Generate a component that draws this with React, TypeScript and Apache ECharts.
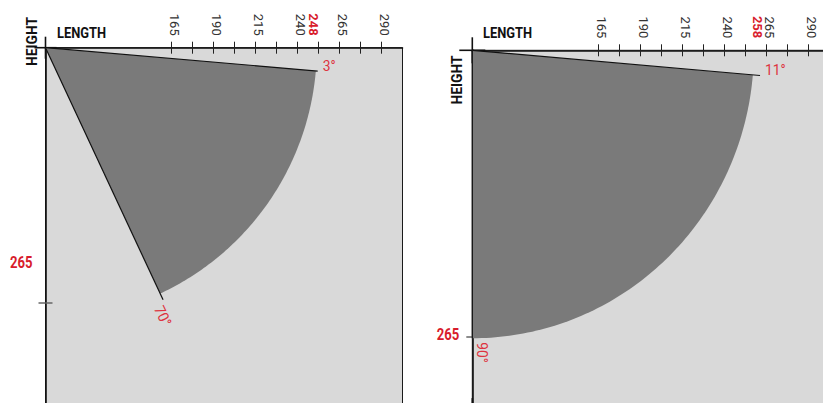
import React, { useEffect, useRef } from 'react';
import * as echarts from 'echarts';

// ---------- data ----------
const LENGTH_MIN = 90;
const LENGTH_MAX = 302.5;
const HEIGHT_MIN = 0;
const heightMax = [240, 210];

const lengthTicks = [165, 177.5, 190, 202.5, 215, 227.5, 240, 252.5, 265, 277.5, 290];
const lengthLabels = [165, 190, 215, 240, 265, 290];

const lengthMarks = [248, 258];        // red length values on the top axis
const heightMarks = [265, 265];        // red height values
const heightMarkLevels = [128, 165.7]; // where the red height value sits on the height axis
const heightTicks = [152, 167];        // tick on the height axis
const upperAngleLabels = [3, 11];
const lowerAngleLabels = [70, 90];
const sweepFrom = [4.9, 4.9];          // drawn upper arm direction (deg below horizontal)
const sweepTo = [65, 90];              // drawn lower arm direction
const fillReach = [161.5, 167.6];      // radius of the shaded sector
const upperArmReach = [162.6, 171.9];  // length of the upper arm line
const lowerArmReach = [165.6, 167.6];  // length of the lower arm line

// ---------- styles ----------
const FONT = "Roboto, 'Liberation Sans', sans-serif";
const RED = '#d81c2c';
const RED_LIGHT = '#de3340';
const FILL = '#7a7a7a';
const BG = '#d9d9d9';
const INK = '#111';
const RAD = Math.PI / 180;
const NARROW = 0.86;

const gridBox = [
  { left: 45.5, top: 47.7, width: 357, height: 403.2 },
  { left: 472.3, top: 50.3, width: 357, height: 360.8 },
];
const extSize = [22, 26];

function makeRenderItem(i: number) {
  return (params: any, api: any) => {
    const at = (r: number, deg: number) =>
      api.coord([LENGTH_MIN + r * Math.cos(deg * RAD), HEIGHT_MIN + r * Math.sin(deg * RAD)]);
    const pivot = api.coord([LENGTH_MIN, HEIGHT_MIN]);
    const pts: number[][] = [pivot];
    const steps = 90;
    for (let k = 0; k <= steps; k++) {
      const a = sweepFrom[i] + ((sweepTo[i] - sweepFrom[i]) * k) / steps;
      pts.push(at(fillReach[i], a));
    }
    const up = at(upperArmReach[i], sweepFrom[i]);
    const lo = at(lowerArmReach[i], sweepTo[i]);
    const loAng = Math.atan2(lo[1] - pivot[1], lo[0] - pivot[0]);
    const along = 4;
    const lp = [lo[0] + along * Math.cos(loAng), lo[1] + along * Math.sin(loAng)];
    const inside = sweepTo[i] >= 80;
    const hy = api.coord([LENGTH_MIN, heightMarkLevels[i]])[1];
    return {
      type: 'group',
      children: [
        { type: 'polygon', shape: { points: pts }, style: { fill: FILL } },
        {
          type: 'line',
          shape: { x1: pivot[0], y1: pivot[1], x2: up[0], y2: up[1] },
          style: { stroke: INK, lineWidth: 1.2 },
        },
        {
          type: 'line',
          shape: { x1: pivot[0], y1: pivot[1], x2: lo[0], y2: lo[1] },
          style: { stroke: INK, lineWidth: 1.2 },
        },
        {
          type: 'text',
          x: up[0] + 5,
          y: up[1] - 5,
          scaleX: 0.92,
          style: {
            text: upperAngleLabels[i] + '°',
            fill: RED_LIGHT,
            fontSize: 15,
            fontFamily: FONT,
            align: 'left',
            verticalAlign: 'middle',
          },
        },
        {
          type: 'text',
          x: lp[0],
          y: lp[1],
          rotation: -loAng,
          scaleX: 0.92,
          style: {
            text: lowerAngleLabels[i] + '°',
            fill: RED_LIGHT,
            fontSize: 15,
            fontFamily: FONT,
            align: 'left',
            verticalAlign: inside ? 'bottom' : 'top',
            y: inside ? -2 : 0,
          },
        },
        {
          type: 'text',
          x: pivot[0] - 13,
          y: hy,
          scaleX: 0.82,
          style: {
            text: String(heightMarks[i]),
            fill: RED,
            fontSize: 16,
            fontWeight: 'bold',
            fontFamily: FONT,
            align: 'right',
            verticalAlign: 'middle',
          },
        },
      ],
    };
  };
}

function mainXAxis(i: number) {
  return {
    type: 'value',
    gridIndex: i,
    position: 'top',
    min: LENGTH_MIN,
    max: LENGTH_MAX,
    axisLine: {
      show: true,
      onZero: false,
      symbol: ['rect', 'none'],
      symbolSize: [1.6, extSize[i]],
      lineStyle: { color: INK, width: 1.6 },
    },
    axisTick: {
      show: true,
      inside: false,
      length: 6,
      customValues: lengthTicks,
      lineStyle: { color: '#222', width: 1 },
    },
    axisLabel: {
      show: true,
      customValues: [...lengthLabels, lengthMarks[i]],
      rotate: 90,
      margin: 12,
      padding: [0, 0, 6, 0],
      color: '#333',
      fontSize: 13,
      fontFamily: FONT,
      formatter: (v: number) => (v === lengthMarks[i] ? `{hl|${v}}` : `${v}`),
      rich: {
        hl: { color: RED, fontWeight: 'bold', fontSize: 13, fontFamily: FONT },
      },
    },
    splitLine: { show: false },
  };
}

function innerXAxis(i: number) {
  return {
    type: 'value',
    gridIndex: i,
    position: 'top',
    min: LENGTH_MIN,
    max: LENGTH_MAX,
    axisLine: { show: false, onZero: false },
    axisTick: {
      show: true,
      inside: true,
      length: 6,
      customValues: lengthTicks,
      lineStyle: { color: '#222', width: 1 },
    },
    axisLabel: { show: false },
    splitLine: { show: false },
  };
}

function mainYAxis(i: number) {
  return {
    type: 'value',
    gridIndex: i,
    position: 'left',
    inverse: true,
    min: HEIGHT_MIN,
    max: heightMax[i],
    axisLine: {
      show: true,
      onZero: false,
      symbol: ['rect', 'rect'],
      symbolSize: [1.6, extSize[i]],
      lineStyle: { color: INK, width: 1.6 },
    },
    axisTick: {
      show: true,
      inside: false,
      length: i === 0 ? 7 : 6,
      customValues: [heightTicks[i]],
      lineStyle: { color: '#666', width: 1.5 },
    },
    axisLabel: { show: false },
    splitLine: { show: false },
  };
}

const nameStyle = {
  fill: INK,
  fontSize: 15,
  fontWeight: 'bold',
  fontFamily: FONT,
  verticalAlign: 'middle',
};

const option: any = {
  animation: false,
  backgroundColor: '#fff',
  grid: gridBox.map((g) => ({
    ...g,
    show: true,
    backgroundColor: BG,
    borderColor: '#1a1a1a',
    borderWidth: 1,
    containLabel: false,
    outerBoundsMode: 'none',
  })),
  xAxis: [mainXAxis(0), mainXAxis(1), innerXAxis(0), innerXAxis(1)],
  yAxis: [
    mainYAxis(0),
    mainYAxis(1),
    {
      type: 'value',
      gridIndex: 0,
      position: 'left',
      inverse: true,
      min: HEIGHT_MIN,
      max: heightMax[0],
      axisLine: { show: false, onZero: false },
      axisTick: {
        show: true,
        inside: true,
        length: 7,
        customValues: [heightTicks[0]],
        lineStyle: { color: '#666', width: 1.5 },
      },
      axisLabel: { show: false },
      splitLine: { show: false },
    },
  ],
  graphic: [
    {
      type: 'text',
      x: 57,
      y: 32.5,
      scaleX: NARROW,
      style: { ...nameStyle, text: 'LENGTH', align: 'left' },
    },
    {
      type: 'text',
      x: 483,
      y: 32.5,
      scaleX: NARROW,
      style: { ...nameStyle, text: 'LENGTH', align: 'left' },
    },
    {
      type: 'text',
      x: 32,
      y: 41.5,
      rotation: Math.PI / 2,
      scaleX: 0.92,
      style: { ...nameStyle, text: 'HEIGHT', align: 'center' },
    },
    {
      type: 'text',
      x: 457.5,
      y: 80,
      rotation: Math.PI / 2,
      scaleX: 0.92,
      style: { ...nameStyle, text: 'HEIGHT', align: 'center' },
    },
  ],
  series: [0, 1].map((i) => ({
    type: 'custom',
    xAxisIndex: i,
    yAxisIndex: i,
    silent: true,
    clip: false,
    renderItem: makeRenderItem(i),
    data: [[lengthMarks[i], heightTicks[i]]],
  })),
};

export default function App() {
  const ref = useRef<HTMLDivElement>(null);
  useEffect(() => {
    const chart = echarts.init(ref.current!, null, { renderer: 'svg' });
    chart.setOption(option);
    return () => chart.dispose();
  }, []);
  return (
    <div
      ref={ref}
      style={{ position: 'absolute', left: 0, top: 0, width: 823, height: 403 }}
    />
  );
}
